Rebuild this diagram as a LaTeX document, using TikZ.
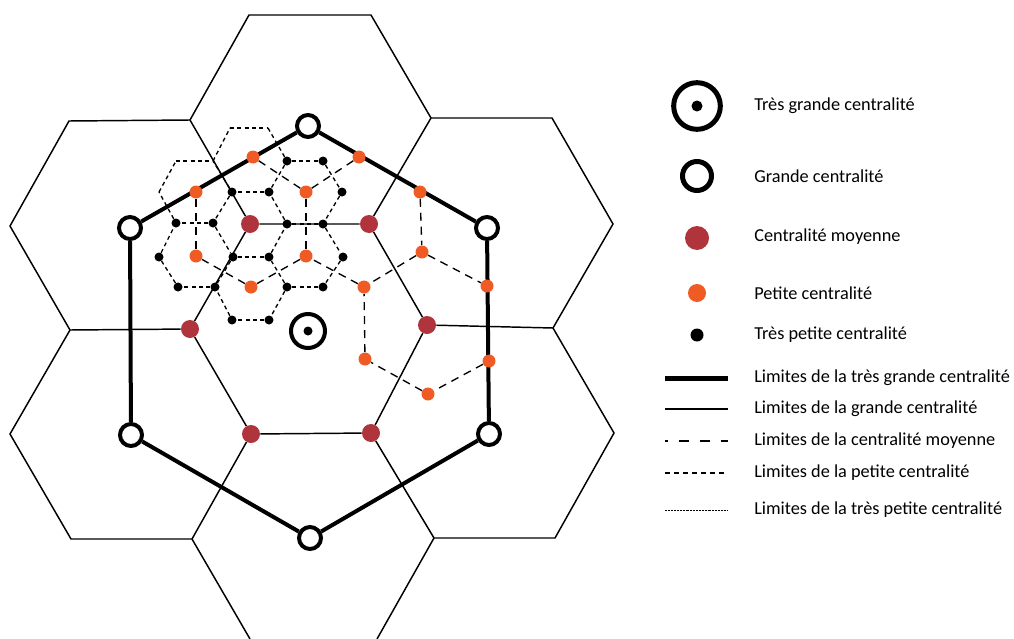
\documentclass[tikz,border=0pt]{standalone}
\usepackage{fontspec}
\setmainfont{Carlito}
\definecolor{medred}{RGB}{176,52,60}
\definecolor{petor}{RGB}{240,90,36}
\pgfdeclarelayer{background}
\pgfsetlayers{background,main}
\begin{document}
\begin{tikzpicture}[x=0.75pt,y=-0.75pt,
  thinhex/.style={line width=1.1pt},
  thickhex/.style={line width=3pt},
  meddash/.style={line width=1pt, dash pattern=on 6pt off 4.5pt},
  smalldash/.style={line width=1pt, dash pattern=on 3pt off 2.5pt},
  ring/.style={circle, draw, fill=white, line width=3pt, minimum size=16.5pt, inner sep=0pt},
  bigring/.style={circle, draw, fill=white, line width=3pt, minimum size=25.5pt, inner sep=0pt},
  bigdot/.style={circle, fill=black, minimum size=6.75pt, inner sep=0pt},
  reddot/.style={circle, fill=medred, minimum size=13.5pt, inner sep=0pt},
  ordot/.style={circle, fill=petor, minimum size=9.75pt, inner sep=0pt},
  blkdot/.style={circle, fill=black, minimum size=6.75pt, inner sep=0pt},
  lgtext/.style={anchor=west, inner sep=0pt, font=\fontsize{13.7pt}{16pt}\selectfont},
]
\useasboundingbox (0,0) rectangle (1014,639);

% ---------- big hexagon vertices ----------
\coordinate (T1) at (249,15);
\coordinate (T2) at (371,15);
\coordinate (T3) at (431,118);
\coordinate (T6) at (190,120);
\coordinate (UR2) at (552,118);
\coordinate (UR3) at (613,224);
\coordinate (UR4) at (553,328);
\coordinate (BR3) at (614,433);
\coordinate (BR4) at (555,538);
\coordinate (BR5) at (434,538);
\coordinate (B4) at (377,639);
\coordinate (B5) at (250,639);
\coordinate (BL4) at (192,539);
\coordinate (BL5) at (71,539);
\coordinate (BL6) at (10,434);
\coordinate (UL5) at (70,330);
\coordinate (UL6) at (10,226);
\coordinate (UL1) at (69,121);

% ---------- small hexagon corners without dot ----------
\coordinate (q1) at (230,128);
\coordinate (q2) at (268,128);
\coordinate (q3) at (213,161);
\coordinate (q4) at (176,161);
\coordinate (q5) at (159,192);

% ---------- medium centralities ----------
\node[reddot] (m1) at (250,224) {};
\node[reddot] (m2) at (369,224) {};
\node[reddot] (m3) at (427,325) {};
\node[reddot] (m4) at (371,433) {};
\node[reddot] (m5) at (251,434) {};
\node[reddot] (m6) at (190,329) {};

% ---------- grande centralities ----------
\node[ring] (G1) at (308,126) {};
\node[ring] (G2) at (487,228) {};
\node[ring] (G3) at (489,434) {};
\node[ring] (G4) at (310,538) {};
\node[ring] (G5) at (131,435) {};
\node[ring] (G6) at (130,228) {};
\node[bigring] (V) at (308,331) {};
\node[bigdot] (Vd) at (308,331) {};

% ---------- petites centralities ----------
\node[ordot] (p1) at (253,157) {};
\node[ordot] (p2) at (359,157) {};
\node[ordot] (p3) at (196,192) {};
\node[ordot] (p4) at (306,192) {};
\node[ordot] (p5) at (420,192) {};
\node[ordot] (p6) at (196,256) {};
\node[ordot] (p7) at (306,256) {};
\node[ordot] (p8) at (422,252) {};
\node[ordot] (p9) at (251,287) {};
\node[ordot] (p10) at (364,287) {};
\node[ordot] (p11) at (487,286) {};
\node[ordot] (p12) at (365,359) {};
\node[ordot] (p13) at (489,361) {};
\node[ordot] (p14) at (428,394) {};

% ---------- tres petites centralities ----------
\node[blkdot] (s1) at (287,161) {};
\node[blkdot] (s2) at (323,161) {};
\node[blkdot] (s3) at (232,192) {};
\node[blkdot] (s4) at (269,192) {};
\node[blkdot] (s5) at (342,192) {};
\node[blkdot] (s6) at (176,223) {};
\node[blkdot] (s7) at (213,223) {};
\node[blkdot] (s8) at (287,224) {};
\node[blkdot] (s9) at (323,224) {};
\node[blkdot] (s10) at (159,257) {};
\node[blkdot] (s11) at (233,257) {};
\node[blkdot] (s12) at (269,257) {};
\node[blkdot] (s13) at (343,257) {};
\node[blkdot] (s14) at (178,287) {};
\node[blkdot] (s15) at (215,287) {};
\node[blkdot] (s16) at (287,287) {};
\node[blkdot] (s17) at (323,287) {};
\node[blkdot] (s18) at (232,320) {};
\node[blkdot] (s19) at (269,320) {};

\begin{pgfonlayer}{background}
% thin hexagons (grande centralite limits)
\draw[thinhex] (UL5) -- (UL6) -- (UL1) -- (T6) -- (T1) -- (T2) -- (T3) -- (UR2) -- (UR3) -- (UR4) -- (BR3) -- (BR4) -- (BR5) -- (B4);
\draw[thinhex] (B5) -- (BL4) -- (BL5) -- (BL6) -- (UL5) -- (m6);
\draw[thinhex] (T6) -- (m1) -- (m2) -- (T3);
\draw[thinhex] (m2) -- (m3) -- (UR4);
\draw[thinhex] (m3) -- (m4) -- (BR5);
\draw[thinhex] (m4) -- (m5) -- (BL4);
\draw[thinhex] (m5) -- (m6) -- (m1);
% thick hexagon
\draw[thickhex] (G1) -- (G2);
\draw[thickhex] (G2) -- (G3);
\draw[thickhex] (G3) -- (G4);
\draw[thickhex] (G4) -- (G5);
\draw[thickhex] (G5) -- (G6);
\draw[thickhex] (G6) -- (G1);
% medium dashed
\draw[meddash] (p1) -- (p4);
\draw[meddash] (p4) -- (p7);
\draw[meddash] (p7) -- (p9);
\draw[meddash] (p9) -- (p6);
\draw[meddash] (p6) -- (p3);
\draw[meddash] (p4) -- (p2);
\draw[meddash] (p5) -- (p8);
\draw[meddash] (p8) -- (p10);
\draw[meddash] (p10) -- (p7);
\draw[meddash] (p8) -- (p11);
\draw[meddash] (p13) -- (p14);
\draw[meddash] (p14) -- (p12);
\draw[meddash] (p12) -- (p10);
% small dashed
\draw[smalldash] (q1) -- (q2);
\draw[smalldash] (q2) -- (s1);
\draw[smalldash] (s1) -- (s4);
\draw[smalldash] (s4) -- (s3);
\draw[smalldash] (s3) -- (q3);
\draw[smalldash] (q3) -- (q1);
\draw[smalldash] (q4) -- (q3);
\draw[smalldash] (s3) -- (s7);
\draw[smalldash] (s7) -- (s6);
\draw[smalldash] (s6) -- (q5);
\draw[smalldash] (q5) -- (q4);
\draw[smalldash] (s1) -- (s2);
\draw[smalldash] (s2) -- (s5);
\draw[smalldash] (s5) -- (s9);
\draw[smalldash] (s9) -- (s8);
\draw[smalldash] (s8) -- (s4);
\draw[smalldash] (s7) -- (s11);
\draw[smalldash] (s11) -- (s15);
\draw[smalldash] (s15) -- (s14);
\draw[smalldash] (s14) -- (s10);
\draw[smalldash] (s10) -- (s6);
\draw[smalldash] (s9) -- (s13);
\draw[smalldash] (s13) -- (s17);
\draw[smalldash] (s17) -- (s16);
\draw[smalldash] (s16) -- (s12);
\draw[smalldash] (s12) -- (s8);
\draw[smalldash] (s11) -- (s12);
\draw[smalldash] (s16) -- (s19);
\draw[smalldash] (s19) -- (s18);
\draw[smalldash] (s18) -- (s15);
\end{pgfonlayer}

% ---------- legend ----------
\node[circle, draw, fill=white, line width=3.75pt, minimum size=35pt, inner sep=0pt] (L1) at (697,106) {};
\node[circle, fill=black, minimum size=8.25pt, inner sep=0pt] (L1d) at (697,106) {};
\node[circle, draw, fill=white, line width=3.75pt, minimum size=21.75pt, inner sep=0pt] (L2) at (697,176) {};
\node[circle, fill=medred, minimum size=18pt, inner sep=0pt] (L3) at (697,238) {};
\node[circle, fill=petor, minimum size=13.5pt, inner sep=0pt] (L4) at (697,293) {};
\node[circle, fill=black, minimum size=9.75pt, inner sep=0pt] (L5) at (697,335) {};

\node[lgtext] (t1) at (754,106) {Très grande centralité};
\node[lgtext] (t2) at (754,176) {Grande centralité};
\node[lgtext] (t3) at (754,237) {Centralité moyenne};
\node[lgtext] (t4) at (754,293) {Petite centralité};
\node[lgtext] (t5) at (754,335) {Très petite centralité};

\coordinate (la) at (665,378); \coordinate (lb) at (728,378);
\coordinate (lc) at (665,409); \coordinate (ld) at (728,409);
\coordinate (le) at (665,441); \coordinate (lf) at (728,441);
\coordinate (lg) at (665,473); \coordinate (lh) at (728,473);
\coordinate (li) at (665,510); \coordinate (lj) at (728,510);
\draw[line width=3.75pt] (la) -- (lb);
\draw[line width=1.1pt] (lc) -- (ld);
\draw[line width=1.1pt, dash pattern=on 7.5pt off 8.25pt, dash phase=5.5pt] (le) -- (lf);
\draw[line width=1pt, dash pattern=on 3.75pt off 3pt] (lg) -- (lh);
\draw[line width=0.6pt, dash pattern=on 0.6pt off 0.5pt] (li) -- (lj);

\node[lgtext] (t6) at (754,378) {Limites de la très grande centralité};
\node[lgtext] (t7) at (754,409) {Limites de la grande centralité};
\node[lgtext] (t8) at (754,441) {Limites de la centralité moyenne};
\node[lgtext] (t9) at (754,473) {Limites de la petite centralité};
\node[lgtext] (t10) at (754,510) {Limites de la très petite centralité};
\end{tikzpicture}
\end{document}
